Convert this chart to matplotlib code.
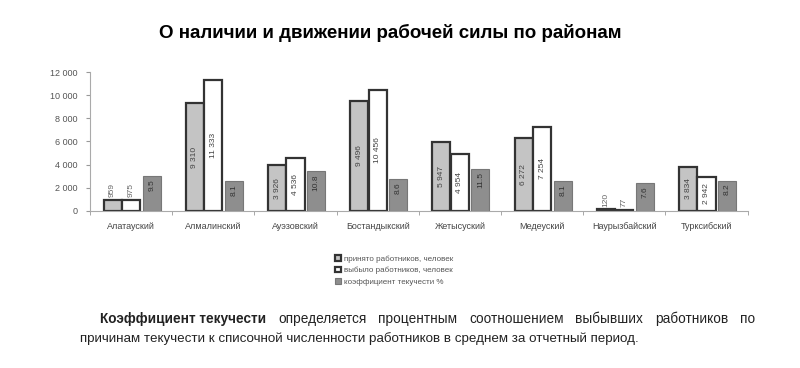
import numpy as np
import matplotlib.pyplot as plt

plt.rcParams['font.family'] = ['Liberation Sans', 'DejaVu Sans']

# data
districts = ['Алатауский', 'Алмалинский', 'Ауэзовский', 'Бостандыкский',
             'Жетысуский', 'Медеуский', 'Наурызбайский', 'Турксибский']
hired = [959, 9310, 3926, 9496, 5947, 6272, 120, 3834]
left = [975, 11333, 4536, 10456, 4954, 7254, 77, 2942]
turnover = [9.5, 8.1, 10.8, 8.6, 11.5, 8.1, 7.6, 8.2]
labels = ['принято работников, человек', 'выбыло работников, человек',
          'коэффициент текучести %']
yticks = [0, 2000, 4000, 6000, 8000, 10000, 12000]


def fmt(v):
    return '{:,}'.format(v).replace(',', ' ')


fig = plt.figure(figsize=(8, 3.68), dpi=100)
ax = fig.add_axes([0.1125, 0.427, 0.822, 0.377])
ax2 = ax.twinx()

x = np.arange(len(districts))
w = 0.22
b1 = ax.bar(x - 0.225, hired, w, color='#c4c4c4', edgecolor='#333333', linewidth=1.6, label=labels[0])
b2 = ax.bar(x, left, w, color='white', edgecolor='#333333', linewidth=1.6, label=labels[1])
b3 = ax2.bar(x + 0.25, turnover, w, color='#8e8e8e', edgecolor='#777777', linewidth=0.8, label=labels[2])

# value labels
for xs, vals in ((x - 0.225, hired), (x, left)):
    for xi, v in zip(xs, vals):
        if v < 2000:
            ax.text(xi, v + 250, fmt(v), rotation=90, ha='center', va='bottom',
                    fontsize=6, color='#666666')
        else:
            ax.text(xi, v / 2, fmt(v), rotation=90, ha='center', va='center',
                    fontsize=6, color='#444444')
for xi, v in zip(x + 0.25, turnover):
    ax2.text(xi, v - 0.8, str(v), rotation=90, ha='center', va='top',
             fontsize=6, color='#333333')

ax.set_xlim(-0.5, len(districts) - 0.5)
ax.set_ylim(0, 12000)
ax2.set_ylim(0, 38)
ax2.axis('off')
ax.set_yticks(yticks)
ax.set_yticklabels([fmt(t) for t in yticks], fontsize=6.5, color='#555555')
ax.set_xticks(x)
ax.set_xticklabels(districts, fontsize=6.5, color='#444444')
ax.set_xticks(np.arange(len(districts) + 1) - 0.5, minor=True)
ax.tick_params(axis='x', which='major', length=0, pad=8)
ax.tick_params(axis='x', which='minor', length=3, color='#999999')
ax.tick_params(axis='y', length=3, color='#999999', pad=6)
for s in ['top', 'right']:
    ax.spines[s].set_visible(False)
ax.spines['left'].set_color('#aaaaaa')
ax.spines['bottom'].set_color('#aaaaaa')

fig.text(0.4875, 0.91, 'О наличии и движении рабочей силы по районам',
         ha='center', va='center', fontsize=13.5, fontweight='bold')

fig.legend(handles=[b1, b2, b3], labels=labels, loc='center left',
           bbox_to_anchor=(0.41, 0.265), frameon=False, fontsize=5.8,
           handlelength=0.7, handleheight=0.7, handletextpad=0.4,
           labelspacing=0.45, labelcolor='#555555')

# footnote: bold start, first line justified
fig.canvas.draw()
r = fig.canvas.get_renderer()
W = fig.bbox.width
y1 = 0.122
t1 = fig.text(0.125, y1, 'Коэффициент текучести', fontsize=9.8,
              fontweight='bold', va='baseline', color='#222222')
start = t1.get_window_extent(renderer=r).x1 / W
end = 0.944
words = 'определяется процентным соотношением выбывших работников по'.split()
wt = [fig.text(0, y1, s, fontsize=9.8, va='baseline', color='#222222') for s in words]
widths = [t.get_window_extent(renderer=r).width / W for t in wt]
gap = (end - start - sum(widths)) / len(words)
pos = start + gap
for t, wd in zip(wt, widths):
    t.set_x(pos)
    pos += wd + gap
fig.text(0.1, 0.072,
         'причинам текучести к списочной численности работников в среднем за отчетный период.',
         fontsize=9.6, va='baseline', color='#222222')

fig.savefig('out.png', dpi=100)
